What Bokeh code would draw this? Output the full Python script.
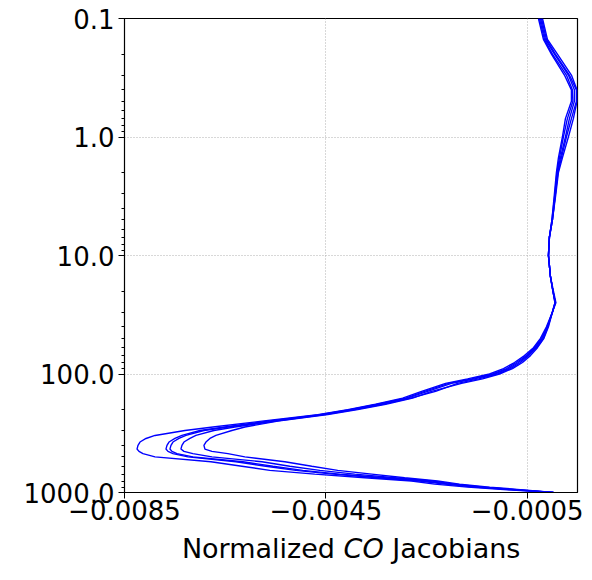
from bokeh.plotting import figure
from bokeh.layouts import column
from bokeh.models import Range1d, FixedTicker
from bokeh.core.properties import value
from bokeh.embed import file_html
from bokeh.resources import INLINE

# Pressure levels (hPa)
pressure = [0.1, 0.15, 0.2, 0.3, 0.4, 0.5, 0.7, 1.0, 1.5, 2, 3, 5, 7, 10, 15, 20, 25, 30,
            40, 50, 60, 70, 80, 90, 100, 110, 120, 140, 160, 180, 200, 220, 250, 280, 300,
            330, 350, 375, 400, 430, 450, 470, 500, 550, 600, 650, 700, 750, 800, 850, 900, 950, 1000]

# Normalized CO Jacobians, in units of 1e-4
jac_a = [-1.96, -0.97, 1.01, 3.79, 4.9, 4.9, 4.18, 3.19, 2.00, 1.21, 0.71, 0.02, -0.58, -0.77,
         -0.38, 0.22, 0.71, 0.02, -1.17, -2.36, -3.75, -5.54, -7.52, -9.70, -12.48, -16.84,
         -21.21, -25.97, -29.74, -35.10, -40.65, -46.60, -57.71, -67.43, -72.99, -78.94,
         -80.73, -81.92, -82.32, -82.51, -82.12, -81.33, -78.94, -67.83, -61.68, -56.13, -47.20, -37.28,
         -27.95, -23.39, -16.84, -8.91, 0.22]
jac_b = [-2.16, -1.17, 0.61, 3.39, 4.78, 4.78, 3.79, 2.80, 1.80, 1.11, 0.61, 0.02, -0.58, -0.77,
         -0.38, 0.12, 0.61, 0.02, -0.97, -2.16, -3.55, -5.14, -7.12, -9.11, -11.88, -16.05,
         -20.61, -25.38, -29.14, -34.70, -40.26, -46.21, -56.52, -65.05, -70.02, -73.59,
         -74.98, -76.16, -76.56, -76.76, -76.36, -75.37, -72.40, -62.87, -56.92, -50.97, -43.63, -34.70,
         -26.37, -21.41, -15.46, -7.72, 0.22]
jac_c = [-2.36, -1.37, 0.42, 3.19, 4.38, 4.38, 3.39, 2.60, 1.61, 1.01, 0.61, 0.02, -0.58, -0.77,
         -0.38, 0.12, 0.61, 0.02, -0.97, -1.96, -3.35, -4.94, -6.73, -8.71, -11.49, -15.46,
         -20.02, -24.78, -28.75, -34.30, -39.86, -45.81, -55.53, -64.46, -69.22, -72.79,
         -74.18, -75.37, -75.77, -75.97, -75.57, -74.58, -71.41, -61.48, -55.53, -49.58, -42.24, -33.31,
         -25.38, -20.42, -14.47, -6.93, 0.22]
jac_d = [-2.56, -1.57, 0.02, 2.80, 3.98, 4.08, 2.99, 2.20, 1.41, 0.91, 0.52, -0.08, -0.58, -0.77,
         -0.38, 0.12, 0.52, 0.02, -0.87, -1.77, -3.15, -4.74, -6.33, -8.31, -10.89, -14.66,
         -18.83, -23.19, -28.15, -33.71, -39.26, -45.22, -54.94, -63.07, -67.24, -70.81,
         -72.00, -73.19, -73.59, -73.79, -73.19, -71.41, -67.63, -57.71, -52.16, -46.21, -39.26, -31.33,
         -23.99, -19.42, -13.47, -6.53, 0.22]
jac_e = [-2.76, -1.77, -0.18, 2.40, 3.79, 3.79, 2.60, 2.00, 1.21, 0.81, 0.42, -0.08, -0.58, -0.77,
         -0.38, 0.12, 0.52, 0.02, -0.77, -1.67, -2.96, -4.35, -5.93, -7.92, -10.50, -13.87,
         -18.03, -23.99, -27.76, -33.11, -38.67, -44.62, -54.54, -61.09, -63.67, -66.84,
         -68.03, -68.82, -69.22, -69.02, -67.63, -64.46, -61.09, -53.15, -47.79, -42.64, -35.89, -29.34,
         -22.80, -18.43, -12.48, -5.74, 0.22]
curves = [jac_a, jac_b, jac_c, jac_d, jac_e]

x_ticks = [-0.0085, -0.0045, -0.0005]
x_tick_labels = ["\u22120.0085", "\u22120.0045", "\u22120.0005"]
y_ticks = [0.1, 1, 10, 100, 1000]
y_tick_labels = ["0.1", "1.0", "10.0", "100.0", "1000.0"]
y_minor = [m * d for d in (0.1, 1, 10, 100) for m in range(2, 10)]

xlabel_parts = ["Normalized", "CO", "Jacobians"]

FONT = "DejaVu Sans"
LEFT, FW, FH, RIGHT = 124, 453, 474, 12

p = figure(frame_width=FW, frame_height=FH, y_axis_type="log",
           x_range=Range1d(-0.0085, 0.0005), y_range=Range1d(1000, 0.1),
           output_backend="svg", toolbar_location=None,
           min_border_left=LEFT, min_border_top=18, min_border_right=RIGHT, min_border_bottom=40)

for c in curves:
    p.line([v * 1e-4 for v in c], pressure, line_color="#0000ff", line_width=1.4)

p.xaxis.ticker = FixedTicker(ticks=x_ticks)
p.xaxis.major_label_overrides = dict(zip(x_ticks, x_tick_labels))
p.yaxis.ticker = FixedTicker(ticks=y_ticks, minor_ticks=y_minor)
p.yaxis.major_label_overrides = dict(zip(y_ticks, y_tick_labels))

for ax in (p.xaxis, p.yaxis):
    ax.major_label_text_font = FONT
    ax.major_label_text_font_size = "26px"
    ax.major_label_text_color = "black"
    ax.axis_line_color = "black"
    ax.major_tick_line_color = "black"
    ax.minor_tick_line_color = "black"
    ax.major_tick_out = 6
    ax.major_tick_in = 0
    ax.minor_tick_out = 3
    ax.minor_tick_in = 0
    ax.major_label_standoff = 4
p.xaxis.minor_tick_out = 0
p.xaxis.major_label_standoff = 1

for g in (p.xgrid, p.ygrid):
    g.grid_line_color = "#b0b0b0"
    g.grid_line_dash = "1 2"
    g.grid_line_width = 1
p.outline_line_color = "black"
p.outline_line_width = 1.2

# x-axis title (with italic "CO") in a strip below the plot; its frame lines up with the plot frame
LH = 46
q = figure(frame_width=FW, frame_height=LH, x_range=Range1d(0, FW), y_range=Range1d(0, LH),
           x_axis_type=None, y_axis_type=None,
           output_backend="svg", toolbar_location=None, min_border=0,
           min_border_left=LEFT, min_border_right=RIGHT, min_border_top=0, min_border_bottom=0,
           outline_line_color=None)
q.grid.visible = False
cx = FW / 2
ty = LH - 16
fs = value("27px")
q.text(x=[cx - 16.0], y=[ty], text=[xlabel_parts[0]], text_align="right", text_baseline="middle",
       text_font=value(FONT), text_font_size=fs, text_color="black")
q.text(x=[cx + 12.6], y=[ty], text=[xlabel_parts[1]], text_align="center", text_baseline="middle",
       text_font=value(FONT), text_font_size=fs, text_font_style="italic", text_color="black")
q.text(x=[cx + 41.2], y=[ty], text=[xlabel_parts[2]], text_align="left", text_baseline="middle",
       text_font=value(FONT), text_font_size=fs, text_color="black")

open("out.html", "w").write(file_html(column(p, q, spacing=0), INLINE))
